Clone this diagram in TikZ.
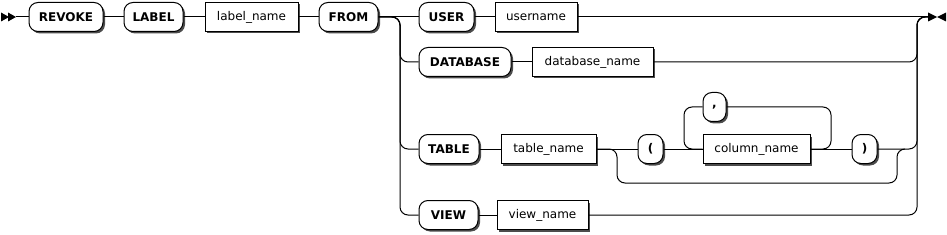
\documentclass[tikz,border=0pt]{standalone}
\usepackage{fontspec}
\setmainfont{DejaVu Sans}
\usetikzlibrary{shadows}
\begin{document}
\begin{tikzpicture}[x=1pt,y=-1pt,line width=1pt,
  boxshadow/.style={drop shadow={shadow xshift=2pt,shadow yshift=-2pt,fill=black!70,opacity=1}},
  term/.style={draw,rounded corners=9pt,fill=white,minimum height=29pt,inner sep=0pt,
    font=\fontsize{12}{14}\selectfont\bfseries,boxshadow},
  nonterm/.style={draw,fill=white,minimum height=29pt,inner sep=0pt,
    font=\fontsize{12}{14}\selectfont,boxshadow},
  conn/.style={rounded corners=8pt},
  tip/.style={fill=black}]
\useasboundingbox (0,0) rectangle (947,235);
% nodes
\node[term,minimum width=74pt] (revoke) at (66,17) {REVOKE};
\node[term,minimum width=59pt] (label) at (153.5,17) {LABEL};
\node[nonterm,minimum width=93pt] (labelname) at (251.5,17) {label\_name};
\node[term,minimum width=59pt] (from) at (348.5,17) {FROM};
\node[term,minimum width=55pt] (user) at (446.5,17) {USER};
\node[nonterm,minimum width=82pt] (username) at (536,17) {username};
\node[term,minimum width=92pt] (database) at (465,62) {DATABASE};
\node[nonterm,minimum width=121pt] (databasename) at (592.5,62) {database\_name};
\node[term,minimum width=60pt] (table) at (449,149) {TABLE};
\node[nonterm,minimum width=95pt] (tablename) at (548.5,149) {table\_name};
\node[term,minimum width=25pt] (lparen) at (650.5,149) {(};
\node[term,minimum width=23pt] (comma) at (714.5,107) {,};
\node[nonterm,minimum width=107pt] (columnname) at (756.5,149) {column\_name};
\node[term,minimum width=25pt] (rparen) at (864.5,149) {)};
\node[term,minimum width=59pt] (view) at (448.5,215) {VIEW};
\node[nonterm,minimum width=91pt] (viewname) at (542.5,215) {view\_name};
% coordinates
\coordinate (start) at (16,17);
\coordinate (end) at (928,17);
\coordinate (splitL) at (400,17);
\coordinate (joinR) at (917,17);
\coordinate (bpL) at (617,183);
\coordinate (bpR) at (897,183);
\coordinate (bpRt) at (905,149);
\coordinate (loopL) at (684,107);
\coordinate (loopR) at (831,107);
% start / end marks
\fill[tip] (1,12.5) -- (9,17) -- (1,21.5) -- cycle;
\fill[tip] (8,12.5) -- (16,17) -- (8,21.5) -- cycle;
\fill[tip] (928,12.5) -- (937,17) -- (928,21.5) -- cycle;
\fill[tip] (946,12.5) -- (937,17) -- (946,21.5) -- cycle;
% connectors
\draw (start) -- (revoke);
\draw (revoke) -- (label);
\draw (label) -- (labelname);
\draw (labelname) -- (from);
\draw (from) -- (user);
\draw (user) -- (username);
\draw (username) -- (end);
\draw[conn] (from.east) -- (splitL) |- (database.west);
\draw[conn] (from.east) -- (splitL) |- (table.west);
\draw[conn] (from.east) -- (splitL) |- (view.west);
\draw (database) -- (databasename);
\draw (table) -- (tablename);
\draw (view) -- (viewname);
\draw (tablename) -- (lparen);
\draw (lparen) -- (columnname);
\draw (columnname) -- (rparen);
\draw[conn] (columnname.east) -| (loopR) -- (comma.east);
\draw[conn] (columnname.west) -| (loopL) -- (comma.west);
\draw[conn] (tablename.east) -| (bpL) -- (bpR) |- (bpRt);
\draw[conn] (databasename.east) -| (joinR) -- (end);
\draw[conn] (rparen.east) -| (joinR) -- (end);
\draw[conn] (viewname.east) -| (joinR) -- (end);
\end{tikzpicture}
\end{document}
